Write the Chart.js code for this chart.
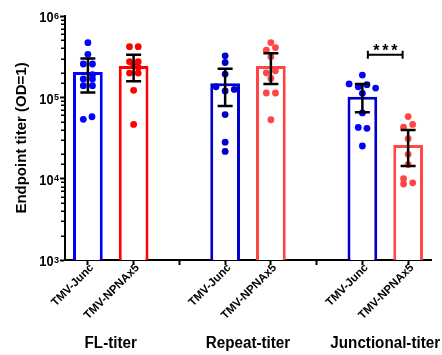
<!DOCTYPE html>
<html>
<head>
<meta charset="utf-8">
<script src="https://cdn.jsdelivr.net/npm/chart.js@4.4.1/dist/chart.umd.min.js"></script>
<style>
  html, body { margin: 0; padding: 0; background: #fff; }
  #wrap { width: 442px; height: 355px; position: relative; }
</style>
</head>
<body>
<div id="wrap"><canvas id="chart"></canvas></div>
<script>
// ── Data
const categories = ['TMV-Junc', 'TMV-NPNAx5', '', 'TMV-Junc', 'TMV-NPNAx5', '', 'TMV-Junc', 'TMV-NPNAx5'];
const groups     = ['FL-titer', 'Repeat-titer', 'Junctional-titer'];
const groupPos   = [0.5, 3.5, 6.5];
const yExponents = [3, 4, 5, 6];

const barValues = [2.05e5, 2.43e5, null, 1.49e5, 2.43e5, null, 1.02e5, 2.59e4];
const errHigh   = [3.0e5, 3.34e5, null, 2.25e5, 3.48e5, null, 1.46e5, 3.96e4];
const errLow    = [1.15e5, 1.58e5, null, 7.8e4, 1.46e5, null, 6.54e4, 1.43e4];

const barColors = ['#0000ff', '#ff0000', null, '#0000cc', '#ff4444', null, '#0000cc', '#ff4848'];
const dotColors = ['#0000ff', '#ff0000', null, '#0000cc', '#ff4545', null, '#0000ff', '#ff4545'];

// individual animals: values and small horizontal offsets (category units)
const flJuncVals   = [4.7e5, 3.38e5, 2.57e5, 2.57e5, 1.9e5, 1.68e5, 1.68e5, 1.39e5, 1.39e5, 5.36e4, 5.77e4];
const flJuncOffs   = [0, 0, -0.1, 0.1, 0.1, -0.1, 0.1, -0.1, 0.1, -0.1, 0.09];
const flNpnaVals   = [4.2e5, 4.2e5, 2.74e5, 2.74e5, 2.44e5, 2.33e5, 1.99e5, 1.99e5, 1.22e5, 4.64e4];
const flNpnaOffs   = [-0.09, 0.1, -0.09, 0.1, 0, 0.1, -0.09, 0.1, 0, 0];
const repJuncVals  = [3.24e5, 2.68e5, 1.93e5, 1.35e5, 1.25e5, 1.2e5, 6.14e4, 2.81e4, 2.16e4];
const repJuncOffs  = [0, 0, 0, -0.2, 0.2, 0, 0, 0, 0];
const repNpnaVals  = [4.71e5, 3.8e5, 4.09e5, 3.15e5, 2.0e5, 2.12e5, 1.71e5, 1.13e5, 1.13e5, 5.3e4];
const repNpnaOffs  = [0, -0.1, 0.1, 0, -0.1, 0.1, 0, -0.1, 0.1, 0];
const junJuncVals  = [1.88e5, 1.46e5, 1.35e5, 1.43e5, 1.3e5, 1.12e5, 6.44e4, 4.26e4, 4.16e4, 2.52e4];
const junJuncOffs  = [0, -0.29, -0.09, 0.1, 0.29, 0, 0, -0.09, 0.1, 0];
const junNpnaVals  = [5.8e4, 4.64e4, 4.3e4, 3.1e4, 1.99e4, 1.49e4, 1.0e4, 8.6e3, 8.9e3];
const junNpnaOffs  = [0, 0.1, -0.1, 0, 0, 0, -0.1, -0.1, 0.1];

const pointSets = [
  { bar: 0, vals: flJuncVals,  offs: flJuncOffs },
  { bar: 1, vals: flNpnaVals,  offs: flNpnaOffs },
  { bar: 3, vals: repJuncVals, offs: repJuncOffs },
  { bar: 4, vals: repNpnaVals, offs: repNpnaOffs },
  { bar: 6, vals: junJuncVals, offs: junJuncOffs },
  { bar: 7, vals: junNpnaVals, offs: junNpnaOffs },
];

// significance bracket between the two junctional bars
const sigFrom = 6.12, sigTo = 6.88, sigValue = 3.33e5, sigText = '***';

// ── helpers
function squeezedText(ctx, text, x, y, font, align, sx) {
  ctx.save();
  ctx.translate(x, y);
  ctx.scale(sx, 1);
  ctx.font = font;
  ctx.textAlign = align;
  ctx.textBaseline = 'alphabetic';
  ctx.fillText(text, 0, 0);
  ctx.restore();
}

const FONT = '"Liberation Sans", Arial, sans-serif';

const extras = {
  id: 'extras',
  afterDatasetsDraw(chart) {
    const { ctx } = chart;
    const x = chart.scales.x, y = chart.scales.y;
    ctx.save();
    ctx.strokeStyle = '#000';
    ctx.lineWidth = 2.5;
    barValues.forEach((v, i) => {
      if (v == null) return;
      const px = x.getPixelForValue(i);
      const top = y.getPixelForValue(errHigh[i]);
      const bot = y.getPixelForValue(errLow[i]);
      ctx.beginPath();
      ctx.moveTo(px, top); ctx.lineTo(px, bot);
      ctx.moveTo(px - 7.5, top); ctx.lineTo(px + 7.5, top);
      ctx.moveTo(px - 7.5, bot); ctx.lineTo(px + 7.5, bot);
      ctx.stroke();
    });

    // bracket + stars
    const bx1 = x.getPixelForValue(sigFrom), bx2 = x.getPixelForValue(sigTo);
    const by = y.getPixelForValue(sigValue);
    ctx.lineWidth = 2;
    ctx.beginPath();
    ctx.moveTo(bx1, by); ctx.lineTo(bx2, by);
    ctx.moveTo(bx1, by - 4); ctx.lineTo(bx1, by + 4);
    ctx.moveTo(bx2, by - 4); ctx.lineTo(bx2, by + 4);
    ctx.stroke();
    ctx.fillStyle = '#000';
    const cx = (bx1 + bx2) / 2;
    [...sigText].forEach((s, k) => {
      squeezedText(ctx, s, cx + (k - 1) * 9, by + 1.5, 'bold 16px ' + FONT, 'center', 1);
    });
    ctx.restore();
  },
  afterDraw(chart) {
    const { ctx, chartArea } = chart;
    const x = chart.scales.x, y = chart.scales.y;
    ctx.save();
    ctx.fillStyle = '#000';
    ctx.strokeStyle = '#000';

    // minor log ticks
    ctx.lineWidth = 1.5;
    y.ticks.forEach(t => {
      if (t.major) return;
      const py = Math.round(y.getPixelForValue(t.value)) + 0.25;
      ctx.beginPath();
      ctx.moveTo(chartArea.left - 4, py);
      ctx.lineTo(chartArea.left, py);
      ctx.stroke();
    });

    // y tick labels 10^n
    yExponents.forEach(e => {
      const py = y.getPixelForValue(Math.pow(10, e));
      squeezedText(ctx, '10', 53.5, py + 6.3, 'bold 15px ' + FONT, 'right', 0.85);
      squeezedText(ctx, String(e), 54, py + 2.6, 'bold 9.5px ' + FONT, 'left', 0.95);
    });

    // y title
    ctx.save();
    ctx.translate(25.5, 138);
    ctx.rotate(-Math.PI / 2);
    ctx.font = 'bold 15px ' + FONT;
    ctx.textAlign = 'center';
    ctx.textBaseline = 'alphabetic';
    ctx.fillText('Endpoint titer (OD=1)', 0, 0);
    ctx.restore();

    // rotated category labels
    categories.forEach((c, i) => {
      if (!c) return;
      const px = x.getPixelForValue(i);
      ctx.save();
      ctx.translate(px + 4, chartArea.bottom + 6);
      ctx.rotate(-Math.PI / 4);
      ctx.font = 'bold 11.5px ' + FONT;
      ctx.textAlign = 'right';
      ctx.textBaseline = 'middle';
      ctx.fillText(c, 0, 0);
      ctx.restore();
    });

    // group labels
    groups.forEach((g, k) => {
      squeezedText(ctx, g, x.getPixelForValue(groupPos[k]), 348, 'bold 16px ' + FONT, 'center', 0.95);
    });
    ctx.restore();
  }
};

const scatterSets = pointSets.map(p => ({
  type: 'scatter',
  xAxisID: 'xp',
  yAxisID: 'y',
  order: 1,
  data: p.vals.map((v, j) => ({ x: p.bar + p.offs[j], y: v })),
  backgroundColor: dotColors[p.bar],
  borderWidth: 0,
  pointRadius: 3.4,
  pointHoverRadius: 3.4,
}));

new Chart(document.getElementById('chart'), {
  type: 'bar',
  data: {
    labels: categories,
    datasets: [
      {
        order: 2,
        data: barValues,
        backgroundColor: '#ffffff',
        borderColor: barColors.map(c => c || '#000'),
        borderWidth: 3,
        borderSkipped: 'start',
        grouped: false,
        barPercentage: 0.65,
        categoryPercentage: 1,
      },
      ...scatterSets
    ]
  },
  options: {
    responsive: true,
    maintainAspectRatio: false,
    animation: false,
    layout: { padding: { top: 16, right: 11, left: 0, bottom: 0 } },
    plugins: { legend: { display: false }, tooltip: { enabled: false } },
    scales: {
      x: {
        type: 'category',
        offset: true,
        ticks: { display: false },
        grid: { drawOnChartArea: false, offset: false, drawTicks: true, tickLength: 5, tickWidth: 2, tickColor: '#000' },
        border: { display: true, color: '#000', width: 2 },
        afterFit: s => { s.height = 95; }
      },
      xp: {
        type: 'linear',
        display: false,
        offset: false,
        min: -0.5,
        max: 7.5
      },
      y: {
        type: 'logarithmic',
        min: 1e3,
        max: 1e6,
        ticks: { display: false, autoSkip: false },
        grid: {
          drawOnChartArea: false, drawTicks: true, tickLength: 5, tickWidth: 2,
          tickColor: c => (c.tick && c.tick.major) ? '#000' : 'rgba(0,0,0,0)'
        },
        border: { display: true, color: '#000', width: 2 },
        afterFit: s => { s.width = 65; }
      }
    }
  },
  plugins: [extras]
});
</script>
</body>
</html>
